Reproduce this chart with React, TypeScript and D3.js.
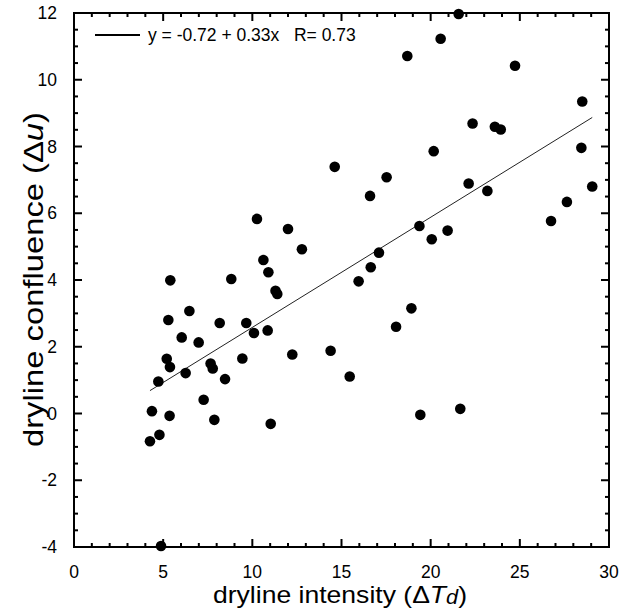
import React from "react";
import * as d3 from "d3";

const xValues = [4.26,4.37,4.79,4.73,4.88,5.2,5.38,5.29,5.4,5.36,6.04,6.26,6.47,6.99,7.27,7.66,7.78,7.87,8.17,8.47,8.82,9.44,9.66,10.09,10.26,10.62,10.86,10.9,11.03,11.3,11.4,12.0,12.24,12.78,14.39,14.62,15.46,15.96,16.6,16.64,17.1,17.53,18.06,18.69,18.92,19.37,19.42,20.06,20.17,20.56,20.95,21.57,21.66,22.13,22.35,23.18,23.6,23.93,24.73,26.75,27.64,28.45,28.5,29.06];
const yValues = [-0.83,0.07,-0.64,0.96,-3.97,1.64,1.39,2.8,3.99,-0.07,2.28,1.21,3.07,2.13,0.41,1.5,1.35,-0.19,2.71,1.03,4.03,1.65,2.71,2.41,5.83,4.6,2.49,4.23,-0.31,3.68,3.58,5.53,1.77,4.92,1.88,7.39,1.11,3.96,6.52,4.38,4.82,7.08,2.6,10.71,3.15,5.62,-0.04,5.22,7.86,11.23,5.48,11.97,0.14,6.89,8.69,6.67,8.59,8.51,10.42,5.77,6.34,7.96,9.35,6.8];
const xTicks = [0,5,10,15,20,25,30];
const yTicks = [-4,-2,0,2,4,6,8,10,12];
const fitIntercept = -0.72;
const fitSlope = 0.33;
const legendText = "y = -0.72 + 0.33x   R= 0.73";

const W = 625, H = 608;
const L = 74, R = 609, T = 13, B = 547;
const font = "'Liberation Sans', Arial, Helvetica, sans-serif";

export default function App() {
  const x = d3.scaleLinear().domain([0, 30]).range([L, R]);
  const y = d3.scaleLinear().domain([-4, 12]).range([B, T]);
  const xMinor = d3.range(0, 30.001, 1);
  const yMinor = d3.range(-4, 12.001, 0.5);
  const xmin = d3.min(xValues)!, xmax = d3.max(xValues)!;
  const line = d3.line<number>().x(d => x(d)).y(d => y(fitIntercept + fitSlope * d));
  const isMajX = (v: number) => Math.abs(v % 5) < 1e-6;
  const isMajY = (v: number) => Math.abs(((v % 2) + 2) % 2) < 1e-6;
  return (
    <svg width={W} height={H} style={{ position: "absolute", left: 0, top: 0, background: "#fff" }} fontFamily={font}>
      <rect x={0} y={0} width={W} height={H} fill="#fff" />
      {xMinor.map((v, i) => {
        const len = isMajX(v) ? 8 : 4;
        return (
          <g key={"xt" + i} stroke="#000" strokeWidth={2}>
            <line x1={x(v)} x2={x(v)} y1={B} y2={B - len} />
            <line x1={x(v)} x2={x(v)} y1={T} y2={T + len} />
          </g>
        );
      })}
      {yMinor.map((v, i) => {
        const len = isMajY(v) ? 8 : 4;
        return (
          <g key={"yt" + i} stroke="#000" strokeWidth={2}>
            <line x1={L} x2={L + len} y1={y(v)} y2={y(v)} />
            <line x1={R} x2={R - len} y1={y(v)} y2={y(v)} />
          </g>
        );
      })}
      <rect x={L} y={T} width={R - L} height={B - T} fill="none" stroke="#000" strokeWidth={2} />
      {xTicks.map(v => (
        <text key={"xl" + v} x={x(v)} y={578} textAnchor="middle" fontSize={17.5}>{v}</text>
      ))}
      {yTicks.map(v => (
        <text key={"yl" + v} x={57} y={y(v) + 6} textAnchor="end" fontSize={17.5}>{v}</text>
      ))}
      <path d={line([xmin, xmax]) || ""} fill="none" stroke="#222" strokeWidth={1} />
      {xValues.map((xv, i) => (
        <circle key={"p" + i} cx={x(xv)} cy={y(yValues[i])} r={5.3} fill="#000" />
      ))}
      <line x1={95} x2={140} y1={35} y2={35} stroke="#000" strokeWidth={2} />
      <text x={148} y={41} fontSize={17.5} xmlSpace="preserve" style={{ whiteSpace: "pre" }}>{legendText}</text>
      <text x={213} y={603} fontSize={24.5} textLength={254} lengthAdjust="spacingAndGlyphs">
        dryline intensity (Δ<tspan fontStyle="italic">T</tspan><tspan fontStyle="italic" fontSize={20} dy={1}>d</tspan><tspan dy={-1}>)</tspan>
      </text>
      <text transform={`translate(43,447) rotate(-90)`} fontSize={27} textLength={335} lengthAdjust="spacingAndGlyphs">
        dryline confluence (Δ<tspan fontStyle="italic">u</tspan>)
      </text>
    </svg>
  );
}
